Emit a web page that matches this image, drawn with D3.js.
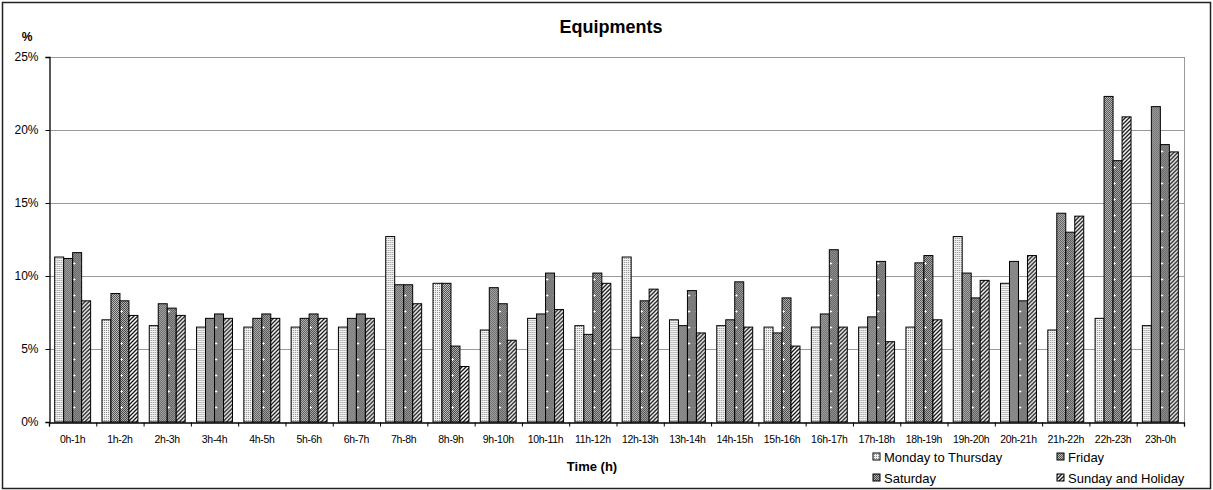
<!DOCTYPE html>
<html>
<head>
<meta charset="utf-8">
<script src="https://cdn.jsdelivr.net/npm/d3@7"></script>
<style>
  body { margin: 0; background: #fff; }
  svg { font-family: "Liberation Sans", Arial, sans-serif; display: block; }
</style>
</head>
<body>
<script>
const wdth = 1213;
const hght = 490;

const categories = ["0h-1h", "1h-2h", "2h-3h", "3h-4h", "4h-5h", "5h-6h", "6h-7h", "7h-8h",
  "8h-9h", "9h-10h", "10h-11h", "11h-12h", "12h-13h", "13h-14h", "14h-15h", "15h-16h",
  "16h-17h", "17h-18h", "18h-19h", "19h-20h", "20h-21h", "21h-22h", "22h-23h", "23h-0h"];

const seriesNames = ["Monday to Thursday", "Friday", "Saturday", "Sunday and Holiday"];

const monThu = [11.3, 7.0, 6.6, 6.5, 6.5, 6.5, 6.5, 12.7, 9.5, 6.3, 7.1, 6.6,
  11.3, 7.0, 6.6, 6.5, 6.5, 6.5, 6.5, 12.7, 9.5, 6.3, 7.1, 6.6];
const friday = [11.2, 8.8, 8.1, 7.1, 7.1, 7.1, 7.1, 9.4, 9.5, 9.2, 7.4, 6.0,
  5.8, 6.6, 7.0, 6.1, 7.4, 7.2, 10.9, 10.2, 11.0, 14.3, 22.3, 21.6];
const saturday = [11.6, 8.3, 7.8, 7.4, 7.4, 7.4, 7.4, 9.4, 5.2, 8.1, 10.2, 10.2,
  8.3, 9.0, 9.6, 8.5, 11.8, 11.0, 11.4, 8.5, 8.3, 13.0, 17.9, 19.0];
const sunday = [8.3, 7.3, 7.3, 7.1, 7.1, 7.1, 7.1, 8.1, 3.8, 5.6, 7.7, 9.5,
  9.1, 6.1, 6.5, 5.2, 6.5, 5.5, 7.0, 9.7, 11.4, 14.1, 20.9, 18.5];

const yTicks = [0, 5, 10, 15, 20, 25];

const seriesValues = [monThu, friday, saturday, sunday];
const patternIds = ["p-mt", "p-fri", "p-sat", "p-sun"];

const plotL = 49, plotR = 1184, plotT = 57, plotB = 422;

const svg = d3.select("body").append("svg")
  .attr("width", wdth)
  .attr("height", hght);

// fill patterns, imitating the old Excel hatches
const defs = svg.append("defs");

const pMt = defs.append("pattern").attr("id", "p-mt")
  .attr("patternUnits", "userSpaceOnUse").attr("width", 2).attr("height", 2);
pMt.append("rect").attr("width", 2).attr("height", 2).attr("fill", "#f2f2f2");
pMt.append("rect").attr("width", 1).attr("height", 1).attr("fill", "#8a8a8a");

const pFri = defs.append("pattern").attr("id", "p-fri")
  .attr("patternUnits", "userSpaceOnUse").attr("width", 2).attr("height", 2);
pFri.append("rect").attr("width", 2).attr("height", 2).attr("fill", "#c0c0c0");
pFri.append("rect").attr("width", 1).attr("height", 1).attr("fill", "#505050");
pFri.append("rect").attr("x", 1).attr("y", 1).attr("width", 1).attr("height", 1).attr("fill", "#505050");

const pSat = defs.append("pattern").attr("id", "p-sat")
  .attr("patternUnits", "userSpaceOnUse").attr("width", 8).attr("height", 16);
pSat.append("rect").attr("width", 8).attr("height", 16).attr("fill", "#b0b0b0");
for (let i = 0; i < 8; i++) {
  for (let j = 0; j < 16; j++) {
    if ((i + j) % 2 === 0) {
      pSat.append("rect").attr("x", i).attr("y", j).attr("width", 1).attr("height", 1).attr("fill", "#484848");
    }
  }
}
pSat.append("rect").attr("x", 3).attr("y", 6).attr("width", 1).attr("height", 3).attr("fill", "#fff");
pSat.append("rect").attr("x", 2).attr("y", 7).attr("width", 3).attr("height", 1).attr("fill", "#fff");

const pSun = defs.append("pattern").attr("id", "p-sun")
  .attr("patternUnits", "userSpaceOnUse").attr("width", 4).attr("height", 4);
pSun.append("rect").attr("width", 4).attr("height", 4).attr("fill", "#fff");
pSun.append("path")
  .attr("d", "M-1,1 L1,-1 M0,4 L4,0 M3,5 L5,3")
  .attr("stroke", "#111").attr("stroke-width", 1.3);

// outer frame
svg.append("rect")
  .attr("x", 2.5).attr("y", 2.5)
  .attr("width", wdth - 5).attr("height", hght - 4)
  .attr("fill", "none").attr("stroke", "#222").attr("stroke-width", 1.5);

svg.append("text")
  .text("Equipments")
  .attr("x", 611).attr("y", 33)
  .attr("text-anchor", "middle")
  .attr("font-size", "18px").attr("font-weight", "bold");

svg.append("text")
  .text("%")
  .attr("x", 27).attr("y", 41)
  .attr("text-anchor", "middle")
  .attr("font-size", "12px").attr("font-weight", "bold");

const y = d3.scaleLinear().domain([0, 25]).range([plotB, plotT]);

const x0 = d3.scaleBand()
  .domain(categories)
  .range([plotL, plotR])
  .paddingInner(0.24)
  .paddingOuter(0.12);

const x1 = d3.scaleBand()
  .domain(d3.range(seriesNames.length))
  .range([0, x0.bandwidth()]);

const xEdges = d3.scaleLinear().domain([0, categories.length]).range([plotL, plotR]);

// gridlines
svg.append("g")
  .selectAll("line")
  .data(yTicks.filter(d => d > 0))
  .enter()
  .append("line")
  .attr("x1", plotL).attr("x2", plotR)
  .attr("y1", d => y(d) + 0.5).attr("y2", d => y(d) + 0.5)
  .attr("stroke", "#9a9a9a").attr("stroke-width", 1);

svg.append("line")
  .attr("x1", plotR + 0.5).attr("x2", plotR + 0.5)
  .attr("y1", plotT).attr("y2", plotB)
  .attr("stroke", "#9a9a9a");

// bars
const groups = svg.append("g")
  .selectAll("g")
  .data(categories)
  .enter()
  .append("g")
  .attr("transform", d => "translate(" + x0(d) + ",0)");

groups.selectAll("rect")
  .data((d, i) => seriesValues.map((vals, s) => ({ s: s, v: vals[i] })))
  .enter()
  .append("rect")
  .attr("x", d => x1(d.s))
  .attr("y", d => y(d.v))
  .attr("width", x1.bandwidth())
  .attr("height", d => plotB - y(d.v))
  .attr("fill", d => "url(#" + patternIds[d.s] + ")")
  .attr("stroke", "#000")
  .attr("stroke-width", 1);

// y axis
const yAxis = svg.append("g")
  .attr("transform", "translate(" + (plotL + 0.5) + ",0)")
  .call(d3.axisLeft(y).tickValues(yTicks).tickFormat(d => d + "%").tickSize(4).tickPadding(7));
yAxis.select(".domain").attr("stroke", "#000").attr("stroke-width", 1.3);
yAxis.selectAll("text").attr("font-size", "12px").attr("font-family", "Liberation Sans, Arial, sans-serif").attr("fill", "#000");

// x axis: ticks at category boundaries, labels at centres
const xAxis = svg.append("g")
  .attr("transform", "translate(0," + (plotB + 0.5) + ")")
  .call(d3.axisBottom(xEdges).ticks(categories.length).tickFormat("").tickSize(4).tickSizeOuter(4));
xAxis.select(".domain").attr("stroke", "#000").attr("stroke-width", 1.3);

svg.append("g")
  .selectAll("text")
  .data(categories)
  .enter()
  .append("text")
  .text(d => d)
  .attr("x", d => x0(d) + x0.bandwidth() / 2)
  .attr("y", 443)
  .attr("text-anchor", "middle")
  .attr("font-size", "10.5px")
  .attr("letter-spacing", "-0.3px");

svg.append("text")
  .text("Time (h)")
  .attr("x", 592).attr("y", 471)
  .attr("text-anchor", "middle")
  .attr("font-size", "13px").attr("font-weight", "bold");

// legend
const legendPos = [[873, 457], [1057, 457], [873, 478], [1057, 478]];
const legend = svg.append("g").attr("id", "legend");

legend.selectAll("rect")
  .data(seriesNames)
  .enter()
  .append("rect")
  .attr("x", (d, i) => legendPos[i][0])
  .attr("y", (d, i) => legendPos[i][1] - 4)
  .attr("width", 7).attr("height", 7)
  .attr("fill", (d, i) => "url(#" + patternIds[i] + ")")
  .attr("stroke", "#000");

legend.selectAll("text")
  .data(seriesNames)
  .enter()
  .append("text")
  .text(d => d)
  .attr("x", (d, i) => legendPos[i][0] + 11)
  .attr("y", (d, i) => legendPos[i][1] + 4.5)
  .attr("font-size", "13px");
</script>
</body>
</html>
